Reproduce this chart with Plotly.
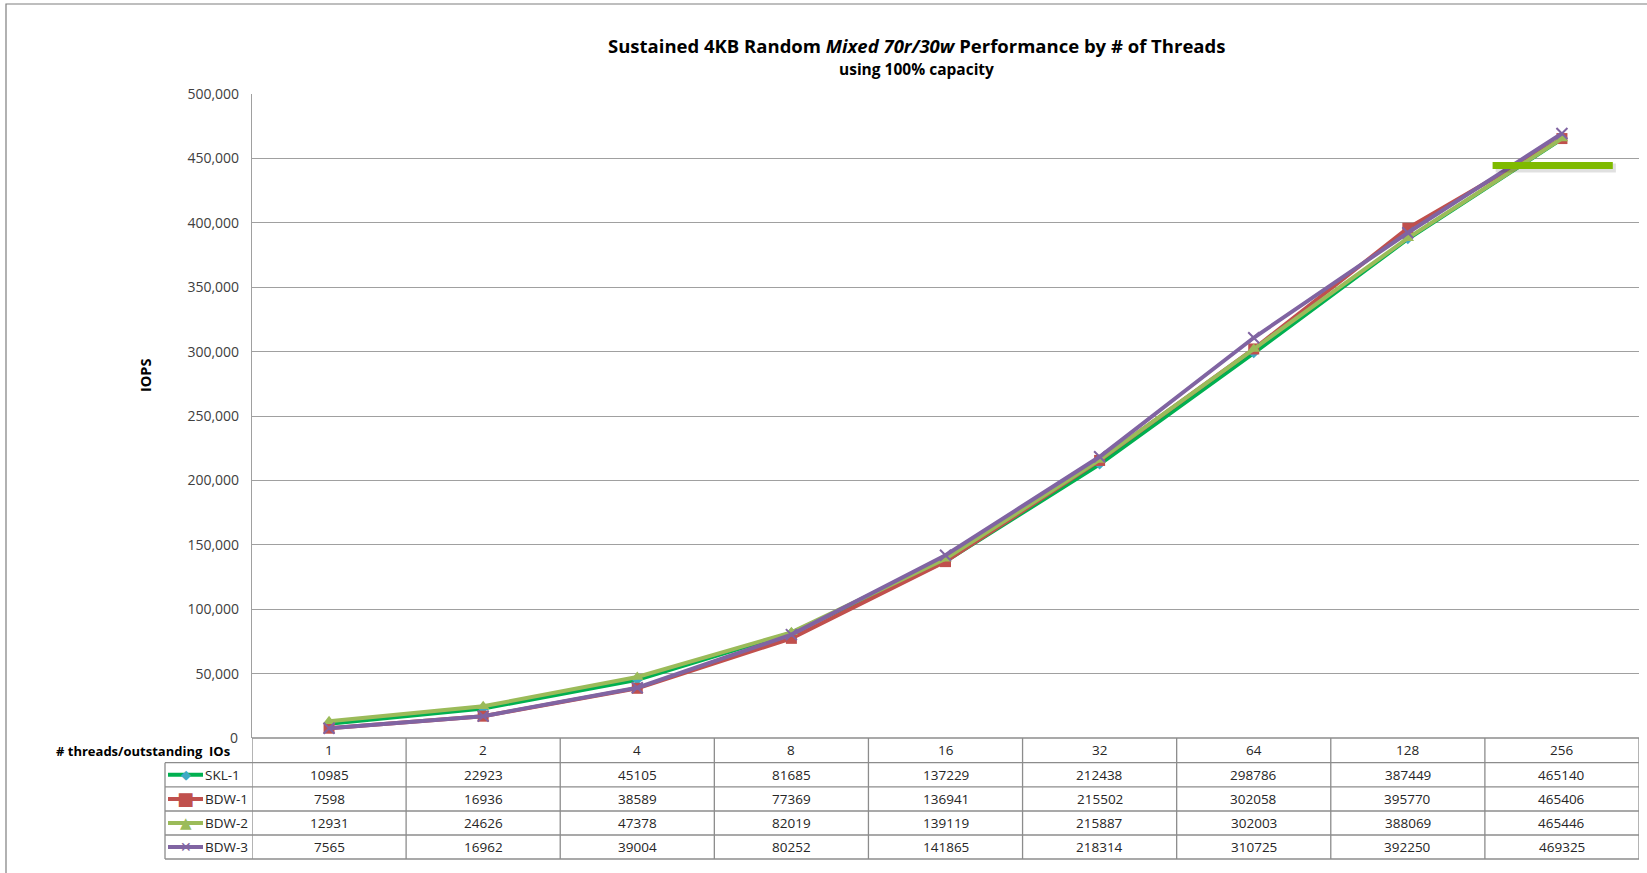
import plotly.graph_objects as go

threads = ["1", "2", "4", "8", "16", "32", "64", "128", "256"]
series_names = ["SKL-1", "BDW-1", "BDW-2", "BDW-3"]
skl_1 = [10985, 22923, 45105, 81685, 137229, 212438, 298786, 387449, 465140]
bdw_1 = [7598, 16936, 38589, 77369, 136941, 215502, 302058, 395770, 465406]
bdw_2 = [12931, 24626, 47378, 82019, 139119, 215887, 302003, 388069, 465446]
bdw_3 = [7565, 16962, 39004, 80252, 141865, 218314, 310725, 392250, 469325]
y_ticks = [0, 50000, 100000, 150000, 200000, 250000, 300000, 350000, 400000, 450000, 500000]

series_values = [skl_1, bdw_1, bdw_2, bdw_3]
line_colors = ["#00B050", "#C0504D", "#9BBB59", "#8064A2"]
marker_colors = ["#3FA9C4", "#C0504D", "#9BBB59", "#8064A2"]
symbols = ["diamond", "square", "triangle-up", "x-thin"]
legend_glyphs = ["\u25C6", "\u25A0", "\u25B2", "\u2715"]
glyph_sizes = [13, 18, 15, 14]
marker_sizes = [8, 11, 11, 11]

W, H = 1647, 873
L, R, T, B = 252, 8, 94, 135
PW, PH = W - L - R, H - T - B
FONT = "Open Sans, Liberation Sans, Arial, sans-serif"
GRID = "#A0A0A0"
BORDER = "#8C8C8C"
TXT = "#262626"


def px(X):
    return (X - L) / PW


def py(Y):
    return (H - B - Y) / PH


def ann(x, y, text, xref="paper", size=13.5, color=TXT, xanchor="center", family=None, **kw):
    f = dict(size=size, color=color)
    if family:
        f["family"] = family
    return dict(x=x, xref=xref, y=y, yref="paper", text=text, showarrow=False,
                xanchor=xanchor, yanchor="middle", font=f, **kw)


xs = list(range(len(threads)))
fig = go.Figure()
for name, vals, lc, mc, sym, ms in zip(series_names, series_values, line_colors, marker_colors, symbols, marker_sizes):
    fig.add_trace(go.Scatter(
        x=xs, y=vals, name=name, mode="lines+markers",
        line=dict(color=lc, width=4),
        marker=dict(symbol=sym, size=ms, color=mc,
                    line=dict(color=mc, width=2 if sym == "x-thin" else 0)),
        showlegend=False,
    ))

# table geometry (pixel rows)
row_edges = [738, 762.7, 786.9, 811, 835, 859]
leg_left = 165

shapes = []
annotations = []
for i, ye in enumerate(row_edges):
    x0 = px(leg_left) if i >= 1 else 0
    shapes.append(dict(type="line", xref="paper", yref="paper",
                       x0=x0, x1=1, y0=py(ye), y1=py(ye),
                       line=dict(color=BORDER, width=1.3)))
for k in range(len(threads) + 1):
    shapes.append(dict(type="line", xref="x", yref="paper",
                       x0=k - 0.5, x1=k - 0.5, y0=py(row_edges[0]), y1=py(row_edges[-1]),
                       line=dict(color=BORDER, width=1.3)))
shapes.append(dict(type="line", xref="paper", yref="paper",
                   x0=px(leg_left), x1=px(leg_left), y0=py(row_edges[1]), y1=py(row_edges[-1]),
                   line=dict(color=BORDER, width=1.3)))

# header row
for k, t in enumerate(threads):
    annotations.append(ann(k, py((row_edges[0] + row_edges[1]) / 2), t, xref="x"))
# value rows with legend keys
for r, vals in enumerate(series_values):
    yc = py((row_edges[r + 1] + row_edges[r + 2]) / 2)
    for k, v in enumerate(vals):
        annotations.append(ann(k, yc, str(v), xref="x"))
    annotations.append(ann(px(203), yc, series_names[r], xanchor="left"))
    shapes.append(dict(type="line", xref="paper", yref="paper", x0=px(168), x1=px(203),
                       y0=yc, y1=yc, line=dict(color=line_colors[r], width=4)))
    annotations.append(ann(px(185.5), yc, legend_glyphs[r], size=glyph_sizes[r],
                           color=marker_colors[r], family="DejaVu Sans"))

# row label and zero tick
annotations.append(ann(px(232), py(751), "<b># threads/outstanding  IOs</b>", xanchor="right",
                       size=13, color="#000000"))
annotations.append(ann(px(240), py(737), "0", xanchor="right", size=14, color="#404040"))
# titles
annotations.append(ann(px(916), py(45),
                       "<b>Sustained 4KB Random <i>Mixed 70r/30w</i> Performance by # of Threads</b>",
                       size=18.5, color="#000000"))
annotations.append(ann(px(916), py(69), "<b>using 100% capacity</b>", size=15.5, color="#000000"))
annotations.append(ann(px(145), py(376), "<b>IOPS</b>", size=14.5, color="#000000", textangle=-90))

# green highlight bar with soft shadow
shapes.append(dict(type="line", xref="x", yref="y", x0=7.57, x1=8.35, y0=442600, y1=442600,
                   line=dict(color="rgba(0,0,0,0.12)", width=9)))
shapes.append(dict(type="line", xref="x", yref="y", x0=7.55, x1=8.33, y0=444400, y1=444400,
                   line=dict(color="#7FBA00", width=7)))

# outer chart border
shapes.append(dict(type="rect", xref="paper", yref="paper", x0=px(6), x1=px(1700),
                   y0=py(1000), y1=py(4), line=dict(color="#7F7F7F", width=1.2)))

fig.update_layout(
    width=W, height=H, margin=dict(l=L, r=R, t=T, b=B),
    paper_bgcolor="white", plot_bgcolor="white",
    font=dict(family=FONT, color="#404040"),
    shapes=shapes, annotations=annotations,
    xaxis=dict(range=[-0.5, len(threads) - 0.5], showticklabels=False, showgrid=False,
               zeroline=False, showline=False, ticks=""),
    yaxis=dict(range=[0, 500000], tickvals=y_ticks[1:], tickformat=",d", showgrid=True,
               gridcolor=GRID, gridwidth=1.2, zeroline=False, showline=True, linecolor=GRID,
               linewidth=1.3, ticks="", ticklabelstandoff=9,
               tickfont=dict(size=14, color="#404040")),
    hovermode=False,
)

fig.write_html("out.html")
